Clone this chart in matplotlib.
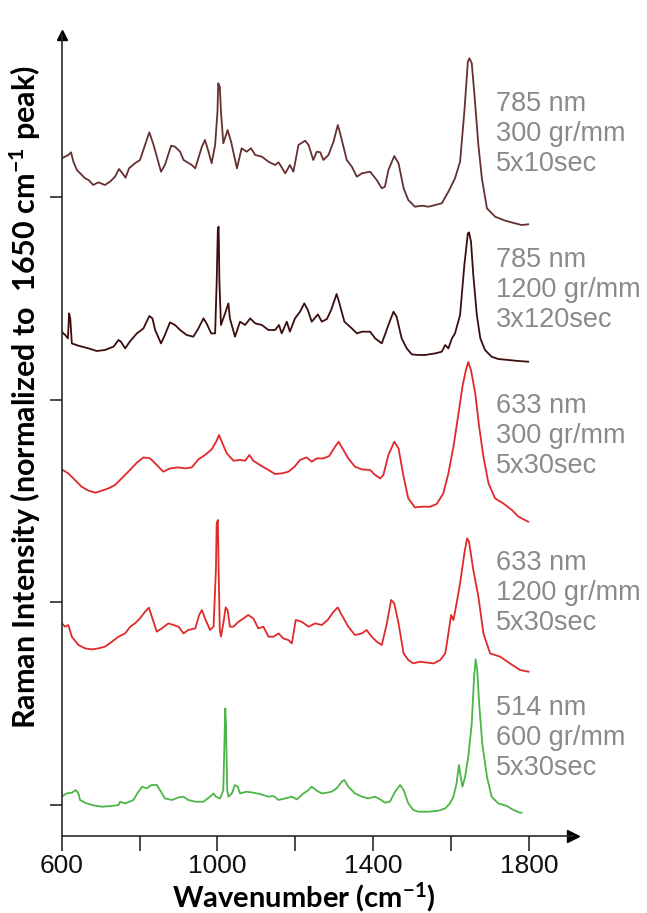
import numpy as np
import matplotlib
matplotlib.use("Agg")
from matplotlib import pyplot as plt

# Spectra: wavenumber (cm-1) and intensity above each trace's own minimum (a.u.)
wn_785_300 = [600, 617, 624, 630, 639, 660, 669, 681, 694, 711, 724, 737, 747, 754, 764, 773, 788, 801,
              814, 825, 836, 855, 865, 881, 891, 904, 913, 934, 943, 960, 968, 977, 985, 994, 1000, 1002,
              1006, 1009, 1015, 1026, 1035, 1050, 1062, 1075, 1086, 1097, 1114, 1131, 1148, 1157, 1174,
              1186, 1195, 1208, 1225, 1234, 1246, 1255, 1264, 1272, 1285, 1298, 1309, 1315, 1332, 1345,
              1358, 1371, 1392, 1409, 1422, 1430, 1439, 1454, 1465, 1478, 1490, 1507, 1525, 1542, 1559,
              1576, 1593, 1610, 1623, 1634, 1643, 1647, 1653, 1660, 1670, 1679, 1692, 1713, 1739, 1764,
              1781, 1798]
int_785_300 = [66.7, 70, 72.7, 63.3, 55, 46.7, 45, 40, 42.7, 40, 43.3, 48.3, 56, 52.7, 47.3, 56.7, 61.7, 65,
               80, 92.7, 80, 53.3, 60, 79.3, 78.3, 73.3, 65, 60, 56.7, 78.3, 85, 73.3, 61.7, 80, 113.3, 141.7,
               138.3, 113.3, 81.7, 95, 83.3, 56.7, 76.7, 73.3, 76.7, 70, 68.3, 63.3, 60, 62.7, 51.7,
               60, 53.3, 80, 84.3, 80, 65, 73.3, 72.7, 65, 70, 83.3, 100, 91.7, 65, 58.3,
               48.3, 51.7, 53.3, 45, 36.7, 38.3, 55, 69, 61.7, 36.7, 25, 18.3, 19.3, 18.3, 20,
               21.7, 33.3, 46.7, 63.3, 113.3, 163.3, 166.7, 161.7, 130, 80, 46.7, 16.7, 8.3, 4.3, 1.7,
               0, 0.7]

wn_785_1200 = [600, 609, 616, 619, 622, 626, 643, 669, 690, 711, 733, 746, 752, 763, 776, 793, 810, 825,
               833, 840, 855, 865, 878, 891, 904, 921, 938, 951, 964, 972, 984, 994, 998, 1001, 1003, 1005,
               1009, 1015, 1021, 1028, 1032, 1045, 1058, 1071, 1084, 1097, 1114, 1131, 1148, 1158, 1165,
               1178, 1186, 1199, 1212, 1223, 1232, 1242, 1258, 1268, 1281, 1292, 1306, 1312, 1326, 1345,
               1358, 1371, 1392, 1405, 1422, 1439, 1452, 1460, 1473, 1486, 1499, 1516, 1533, 1559, 1576,
               1585, 1593, 1602, 1610, 1623, 1634, 1643, 1646, 1651, 1657, 1666, 1675, 1687, 1704, 1721,
               1747, 1773, 1798]
int_785_1200 = [30, 26.7, 23.3, 48.3, 43.3, 18.3, 16, 13.3, 10.7, 11.7, 15, 21.7, 20, 13.3, 20.7, 28.3, 33.3, 45.7,
                43.3, 31.7, 18.3, 26.7, 39.3, 36.7, 31.7, 26.7, 25, 33.3, 43.3, 38.3, 28.3, 28.3, 80, 133.3, 135, 80,
                36.7, 43.3, 50, 58.3, 43.3, 25, 40, 36.7, 43.3, 38.3, 36.7, 31.7, 31.7, 36.7, 28.3,
                40, 30, 43.3, 50, 58.3, 51.7, 40, 47.3, 40, 42.7, 51.7, 67.7, 60, 40, 33.3,
                28.3, 30, 30, 23.3, 18.3, 36.7, 50, 45, 23.3, 13.3, 7.3, 6.7, 6.7, 8.3, 10,
                16.7, 13.3, 23.3, 28.3, 46.7, 96.7, 128.3, 129.3, 120, 86.7, 46.7, 23.3, 11.7, 5, 2.7,
                1.7, 0.7, 0]

wn_633_300 = [600, 617, 634, 651, 669, 687, 703, 720, 737, 754, 771, 793, 810, 827, 840, 861, 878, 900,
              917, 934, 951, 968, 985, 998, 1004, 1011, 1024, 1041, 1058, 1071, 1082, 1092, 1109, 1131,
              1148, 1165, 1182, 1198, 1212, 1229, 1242, 1255, 1272, 1287, 1302, 1311, 1321, 1336, 1353,
              1371, 1392, 1405, 1418, 1426, 1439, 1454, 1465, 1478, 1490, 1507, 1525, 1546, 1563, 1580,
              1593, 1606, 1619, 1629, 1638, 1644, 1651, 1662, 1672, 1683, 1696, 1713, 1734, 1756, 1773,
              1798]
int_633_300 = [52.3, 48.3, 41.7, 35, 31, 29, 31, 33.3, 36.7, 43.3, 50, 59, 64.3, 63.3, 58.3, 50, 53.3, 54.3,
               53.3, 54.3, 62.3, 66.7, 72.3, 81, 86.7, 80, 68.3, 61, 61.7, 61, 66.7, 61, 56.7, 51.7,
               47.7, 48.3, 50, 55, 61.7, 64.3, 60, 63.3, 63.3, 65.7, 75, 80, 73.3, 63.3, 55,
               52.3, 51.7, 46.7, 43.3, 46.7, 66.7, 80, 73.3, 45, 23.3, 14.3, 15, 15, 17.7, 28.3,
               48.3, 75, 108.3, 135, 151.7, 159.7, 151.7, 128.3, 95, 65, 38.3, 23.3, 18.3, 11.7, 5,
               0]

wn_633_1200 = [600, 609, 617, 626, 643, 660, 677, 694, 711, 729, 746, 763, 776, 788, 801, 814, 824, 833,
               844, 857, 874, 887, 900, 913, 925, 943, 953, 960, 968, 981, 990, 996, 998, 1001, 1003, 1006,
               1009, 1015, 1021, 1026, 1032, 1041, 1054, 1067, 1079, 1092, 1105, 1118, 1131, 1144, 1157,
               1169, 1182, 1191, 1201, 1216, 1234, 1251, 1268, 1283, 1298, 1309, 1319, 1336, 1353, 1371,
               1383, 1396, 1409, 1422, 1435, 1446, 1454, 1465, 1478, 1490, 1503, 1520, 1555, 1572, 1585,
               1593, 1600, 1606, 1614, 1623, 1634, 1641, 1646, 1657, 1670, 1683, 1700, 1726, 1751, 1777,
               1799]
int_633_1200 = [48.3, 45, 46.7, 35, 26.7, 23.3, 22.3, 23.3, 25, 30, 35, 38.3, 45, 48.3, 53.3, 60, 64, 53.3,
                40, 43.3, 48.3, 46.7, 45, 38.3, 41.7, 43.3, 56.7, 61.7, 53.3, 41.7, 45, 101.7, 148.3, 151.7, 101.7, 41.7,
                35, 48.3, 64.3, 61.7, 45, 45, 50, 53.3, 56.7, 53.3, 43.3, 45, 35, 35, 38.3,
                33.3, 31.7, 28.3, 51.7, 50, 45, 48.3, 46.7, 51.7, 60, 64.3, 56.7, 45, 36.7, 38.3,
                41.7, 35, 30, 26.7, 48.3, 71.7, 68.3, 48.3, 18.3, 11.7, 8.3, 10, 8.3, 11.7, 18.3,
                38.3, 56.7, 51.7, 68.3, 88.3, 118.3, 133.3, 130, 101.7, 75, 38.3, 18.3, 15, 8.3, 1.7,
                0]

wn_514_600 = [600, 613, 626, 636, 643, 647, 660, 677, 703, 729, 746, 750, 763, 784, 797, 807, 818, 831,
              844, 855, 865, 883, 900, 913, 925, 943, 964, 981, 990, 996, 1007, 1015, 1020, 1022, 1025,
              1028, 1037, 1045, 1052, 1058, 1075, 1092, 1109, 1131, 1144, 1157, 1174, 1191, 1204, 1221,
              1234, 1242, 1255, 1268, 1281, 1293, 1306, 1319, 1326, 1336, 1353, 1371, 1388, 1405, 1418,
              1430, 1443, 1456, 1469, 1478, 1490, 1503, 1516, 1542, 1567, 1585, 1597, 1606, 1614, 1620,
              1626, 1629, 1636, 1644, 1653, 1659, 1663, 1667, 1672, 1680, 1692, 1704, 1721, 1743, 1760,
              1777, 1781]
int_514_600 = [16, 19.3, 20, 22.7, 19.3, 12.7, 10, 7.7, 6, 6.7, 7.7, 11, 9.3, 12.7, 21, 26, 24.3, 27.7,
               27.7, 21, 14.3, 12.7, 15.3, 16, 12.7, 11, 11, 16, 19.3, 16, 14.3, 22.7, 104.3, 87.7, 22.7,
               16, 19.3, 27.7, 26, 19.3, 21, 20, 18.7, 16, 16.7, 12.7, 14.3, 16, 13.3, 19.3,
               22.7, 26, 22, 19.3, 20, 21, 24.3, 31, 32.7, 26, 19.3, 16, 14.3, 16, 13.3,
               10, 11, 21, 27.7, 22.7, 9.3, 2.7, 1, 1, 2, 4.3, 9.3, 16, 29.3, 47.7,
               32.7, 26, 36, 56, 89.3, 136, 153.3, 142.7, 109.3, 69.3, 36, 16, 9.3, 6.7, 2.7,
               0, 0]

# stacking offsets (a.u.), top to bottom
offsets = [610.7, 474, 314, 164, 23]
colors = ['#65302f', '#3d0d0e', '#e2272b', '#df2a2a', '#4cb545']
labels = ["785 nm\n300 gr/mm\n5x10sec",
          "785 nm\n1200 gr/mm\n3x120sec",
          "633 nm\n300 gr/mm\n5x30sec",
          "633 nm\n1200 gr/mm\n5x30sec",
          "514 nm\n600 gr/mm\n5x30sec"]
label_y = [701.7, 545.7, 399.7, 243, 97.4]

spectra = [(wn_785_300, int_785_300), (wn_785_1200, int_785_1200), (wn_633_300, int_633_300),
           (wn_633_1200, int_633_1200), (wn_514_600, int_514_600)]

plt.rcParams['mathtext.fontset'] = 'custom'
plt.rcParams['mathtext.rm'] = 'Lato:bold'
plt.rcParams['mathtext.it'] = 'Lato:bold'

fig = plt.figure(figsize=(6.47, 9.13), dpi=100)
W, H = 647, 913
ax = fig.add_axes([61.7 / W, (H - 835.7) / H, (573 - 61.7) / W, (835.7 - 35) / H])

for (wn, inten), off, c in zip(spectra, offsets, colors):
    ax.plot(wn, np.array(inten) + off, color=c, lw=1.3)

for txt, y in zip(labels, label_y):
    ax.text(1716, y, txt, color='#8a8a8a', fontsize=19.5, family=['Liberation Sans', 'DejaVu Sans'],
            va='center', ha='left', linespacing=1.2)

ax.set_xlim(600, 1913)
ax.set_ylim(0, 800.7)
for s in ['top', 'right']:
    ax.spines[s].set_visible(False)
for s in ['left', 'bottom']:
    ax.spines[s].set_color('#2a2a2a')
    ax.spines[s].set_linewidth(1.2)

ax.set_xticks(np.arange(600, 1801, 200))
ax.set_xticklabels(['600', '', '1000', '', '1400', '', '1800'])
ax.tick_params(axis='x', direction='out', length=11, width=1.2, color='#2a2a2a', pad=2,
               labelsize=19, labelcolor='#111111')
for lab in ax.get_xticklabels():
    lab.set_family(['Liberation Sans Narrow', 'Liberation Sans', 'DejaVu Sans'])
ax.set_yticks([31, 233.5, 436, 638.5])
ax.set_yticklabels([])
ax.tick_params(axis='y', direction='out', length=9, width=1.2, color='#2a2a2a')

# arrow heads on the axes
ax.plot(1, 0, '>', color='black', ms=9, transform=ax.transAxes, clip_on=False)
ax.plot(0, 1, '^', color='black', ms=7, transform=ax.transAxes, clip_on=False)

ax.set_xlabel('Wavenumber (cm$^{-1}$)', fontsize=21, fontweight='bold', family='Lato')
ax.set_ylabel('Raman Intensity (normalized to  1650 cm$^{-1}$ peak)', fontsize=22, fontweight='bold',
              family='Lato')
ax.xaxis.set_label_coords((304 - 61.7) / (573 - 61.7), -(880 - 835.7) / (835.7 - 35))
ax.yaxis.set_label_coords(-(61.7 - 43) / (573 - 61.7), (835.7 - 397) / (835.7 - 35))

fig.savefig('out.png', dpi=100)
